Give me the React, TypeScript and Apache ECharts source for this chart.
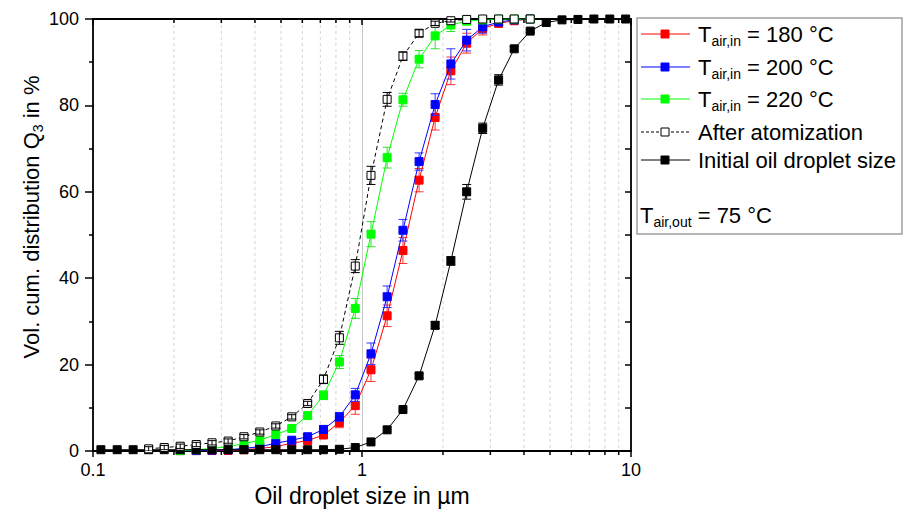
import React, { useEffect, useRef } from "react";
import * as echarts from "echarts";

// Particle size classes (µm)
const sizes = [0.107, 0.123, 0.141, 0.161, 0.184, 0.211, 0.242, 0.277, 0.318, 0.364, 0.417, 0.478, 0.548, 0.628, 0.719, 0.824, 0.944, 1.08, 1.24, 1.42, 1.63, 1.87, 2.14, 2.45, 2.81, 3.22, 3.68, 4.22, 4.84, 5.54, 6.35, 7.28, 8.34, 9.55];

// Q3 (%) per class, null where not drawn
const q180 = [null, null, null, null, null, 0.1, 0.1, 0.1, 0.15, 0.3, 0.6, 1.0, 1.8, 2.4, 3.7, 6.6, 10.5, 18.8, 31.3, 46.4, 62.7, 77.2, 88.0, 94.4, 97.8, 99.0, 99.6, 100, null, null, null, null, null, null];
const q200 = [null, null, null, null, null, 0.1, 0.1, 0.2, 0.3, 0.6, 1.0, 1.8, 2.5, 3.3, 5.0, 7.9, 13.0, 22.5, 35.7, 51.1, 67.0, 80.2, 89.6, 95.1, 98.2, 99.3, 99.8, 100, null, null, null, null, null, null];
const q220 = [null, null, null, null, null, 0.1, 0.3, 0.6, 1.0, 1.7, 2.5, 3.8, 5.2, 8.2, 12.9, 20.6, 33.0, 50.2, 67.9, 81.3, 90.7, 96.1, 98.6, 99.5, 99.8, 100, 100, 100, null, null, null, null, null, null];
const qAfter = [null, null, null, 0.5, 0.8, 1.1, 1.5, 1.9, 2.3, 3.3, 4.4, 5.8, 7.9, 11.0, 16.6, 26.2, 42.8, 63.8, 81.4, 91.4, 96.7, 99.0, 99.6, 99.9, 100, 100, 100, 100, null, null, null, null, null, null];
const qInitial = [0.3, 0.3, 0.3, 0.3, 0.3, 0.3, 0.3, 0.3, 0.3, 0.3, 0.3, 0.3, 0.3, 0.3, 0.3, 0.4, 0.8, 2.1, 4.9, 9.6, 17.4, 29.1, 44.0, 60.0, 74.7, 85.9, 93.1, 97.2, 99.2, 99.8, 99.9, 100, 100, 100];

// Error (± %) per class
const e180 = [0, 0, 0, 0, 0, 0, 0, 0, 0, 0, 0, 0.3, 0.4, 0.6, 0.8, 1.2, 2.0, 2.7, 2.5, 3.0, 2.7, 2.9, 3.2, 2.3, 1.5, 0.8, 0.4, 0, 0, 0, 0, 0, 0, 0];
const e200 = [0, 0, 0, 0, 0, 0, 0, 0, 0, 0, 0, 0, 0, 0.5, 0.8, 1.0, 1.5, 2.5, 2.5, 2.5, 2.0, 2.5, 3.5, 2.5, 1.5, 0.8, 0.3, 0, 0, 0, 0, 0, 0, 0];
const e220 = [0, 0, 0, 0, 0, 0, 0, 0, 0, 0, 0, 0, 0.4, 0.6, 1.0, 1.5, 2.3, 2.9, 2.4, 1.5, 2.0, 3.0, 1.5, 0.8, 0.3, 0, 0, 0, 0, 0, 0, 0, 0, 0];
const eAfter = [0, 0, 0, 0.5, 0.5, 0.5, 0.5, 0.5, 0.5, 0.5, 0.5, 0.5, 0.5, 0.5, 1.0, 1.5, 1.5, 2.1, 1.6, 1.0, 0.8, 0.5, 0.3, 0, 0, 0, 0, 0, 0, 0, 0, 0, 0, 0];
const eInitial = [0, 0, 0, 0, 0, 0, 0, 0, 0, 0, 0, 0, 0, 0, 0, 0, 0, 0, 0, 0, 0.5, 0.8, 1.0, 1.7, 1.2, 1.2, 0.5, 0.3, 0, 0, 0, 0, 0, 0];

// Minor log grid positions
const minorTicks = [0.2, 0.3, 0.4, 0.5, 0.6, 0.7, 0.8, 0.9, 2, 3, 4, 5, 6, 7, 8, 9];

const legendLabels = ["180 °C", "200 °C", "220 °C", "After atomization", "Initial oil droplet size"];
const outletLabel = "75 °C";

const FONT = "'Liberation Sans', Arial, sans-serif";

function pts(vals: (number | null)[]) {
  const out: number[][] = [];
  vals.forEach((v, i) => {
    if (v !== null) out.push([sizes[i], v]);
  });
  return out;
}

function errPts(vals: (number | null)[], errs: number[]) {
  const out: number[][] = [];
  vals.forEach((v, i) => {
    if (v !== null && errs[i] > 0) out.push([sizes[i], v, errs[i]]);
  });
  return out;
}

function errorSeries(data: number[][], color: string, z: number) {
  return {
    type: "custom",
    data,
    clip: true,
    silent: true,
    z,
    encode: { x: 0, y: 1 },
    renderItem: (_p: any, api: any) => {
      const x = api.value(0);
      const y = api.value(1);
      const e = api.value(2);
      const c = api.coord([x, y]);
      const hi = api.coord([x, y + e]);
      const lo = api.coord([x, y - e]);
      const w = 4.5;
      const st = { stroke: color, lineWidth: 1 };
      return {
        type: "group",
        children: [
          { type: "line", shape: { x1: c[0], y1: hi[1], x2: c[0], y2: lo[1] }, style: st },
          { type: "line", shape: { x1: c[0] - w, y1: hi[1], x2: c[0] + w, y2: hi[1] }, style: st },
          { type: "line", shape: { x1: c[0] - w, y1: lo[1], x2: c[0] + w, y2: lo[1] }, style: st },
        ],
      };
    },
  };
}

function lineSeries(name: string, data: number[][], color: string, fill: string, dashed: boolean, z: number) {
  return {
    name,
    type: "line",
    data,
    z,
    symbol: "rect",
    symbolSize: 8,
    showSymbol: true,
    lineStyle: { color, width: 1, type: dashed ? [4, 3] : "solid" },
    itemStyle: { color: fill, borderColor: color, borderWidth: 1 },
    emphasis: { disabled: true },
  };
}

export default function App() {
  const ref = useRef<HTMLDivElement>(null);
  useEffect(() => {
    if (!ref.current) return;
    const chart = echarts.init(ref.current, undefined, { renderer: "svg" });

    const legendRows = [
      { y: 34, color: "#ff0000", fill: "#ff0000", dashed: false, sub: true, label: legendLabels[0] },
      { y: 67, color: "#0000ff", fill: "#0000ff", dashed: false, sub: true, label: legendLabels[1] },
      { y: 99, color: "#00ff00", fill: "#00ff00", dashed: false, sub: true, label: legendLabels[2] },
      { y: 132, color: "#000000", fill: "#ffffff", dashed: true, sub: false, label: legendLabels[3] },
      { y: 160, color: "#000000", fill: "#000000", dashed: false, sub: false, label: legendLabels[4] },
    ];
    const rich = {
      m: { fontSize: 22, fontFamily: FONT, color: "#000", lineHeight: 28 },
      s: { fontSize: 14, fontFamily: FONT, color: "#000", lineHeight: 14, verticalAlign: "bottom" },
    };
    const graphic: any[] = [
      {
        type: "rect",
        shape: { x: 637, y: 18, width: 265, height: 216 },
        style: { fill: "none", stroke: "#a0a0a0", lineWidth: 1.5 },
        silent: true,
      },
    ];
    legendRows.forEach((r) => {
      graphic.push({
        type: "line",
        shape: { x1: 641, y1: r.y, x2: 690, y2: r.y },
        style: { stroke: r.color, lineWidth: 1, lineDash: r.dashed ? [3, 2] : null },
        silent: true,
      });
      graphic.push({
        type: "rect",
        shape: { x: 661, y: r.y - 4, width: 8, height: 8 },
        style: { fill: r.fill, stroke: r.color, lineWidth: 1 },
        silent: true,
      });
      graphic.push({
        type: "text",
        x: 698,
        y: r.y,
        style: {
          text: r.sub ? `{m|T}{s|air,in}{m| = ${r.label}}` : `{m|${r.label}}`,
          rich,
          verticalAlign: "middle",
          align: "left",
        },
        silent: true,
      });
    });
    graphic.push({
      type: "text",
      x: 640,
      y: 215,
      style: { text: `{m|T}{s|air,out}{m| = ${outletLabel}}`, rich, verticalAlign: "middle", align: "left" },
      silent: true,
    });
    graphic.push({
      type: "text",
      x: 31,
      y: 217,
      rotation: Math.PI / 2,
      style: {
        text: "{m|Vol. cum. distribution Q}{s|3}{m| in %}",
        rich,
        verticalAlign: "middle",
        align: "center",
      },
      silent: true,
    });

    chart.setOption({
      animation: false,
      backgroundColor: "#ffffff",
      textStyle: { fontFamily: FONT },
      grid: { left: 93, right: 273, top: 19, bottom: 65, containLabel: false },
      xAxis: [
        {
          type: "log",
          logBase: 10,
          min: 0.1,
          max: 10,
          position: "bottom",
          name: "Oil droplet size in µm",
          nameLocation: "middle",
          nameGap: 33,
          nameTextStyle: { fontSize: 23, color: "#000", fontFamily: FONT },
          axisLine: { show: true, onZero: false, lineStyle: { color: "#000", width: 1.8 } },
          axisTick: { show: true, inside: false, length: 6, lineStyle: { color: "#000", width: 1.5 } },
          axisLabel: { fontSize: 18, color: "#000", margin: 10, fontFamily: FONT },
          splitLine: { show: true, lineStyle: { color: "#c8c8c8", width: 1 } },
        },
        {
          type: "log",
          logBase: 10,
          min: 0.1,
          max: 10,
          position: "top",
          axisLine: { show: true, onZero: false, lineStyle: { color: "#000", width: 1.8 } },
          axisTick: { show: true, inside: true, length: 6, lineStyle: { color: "#000", width: 1.5 } },
          axisLabel: { show: false },
          splitLine: { show: false },
        },
      ],
      yAxis: [
        {
          type: "value",
          min: 0,
          max: 100,
          interval: 20,
          position: "left",
          axisLine: { show: true, onZero: false, lineStyle: { color: "#000", width: 1.8 } },
          axisTick: { show: true, inside: false, length: 8, lineStyle: { color: "#000", width: 1.5 } },
          minorTick: { show: true, splitNumber: 2, length: 4, lineStyle: { color: "#000", width: 1.5 } },
          axisLabel: { fontSize: 18, color: "#000", margin: 14, fontFamily: FONT },
          splitLine: { show: false },
        },
        {
          type: "value",
          min: 0,
          max: 100,
          interval: 10,
          position: "right",
          axisLine: { show: true, onZero: false, lineStyle: { color: "#000", width: 1.8 } },
          axisTick: { show: true, inside: true, length: 6, lineStyle: { color: "#000", width: 1.5 } },
          axisLabel: { show: false },
          splitLine: { show: false },
        },
      ],
      graphic,
      series: [
        {
          type: "custom",
          silent: true,
          clip: false,
          z: 1,
          data: minorTicks.map((v) => [v, 0]),
          encode: { x: 0, y: 1 },
          renderItem: (_p: any, api: any) => {
            const v = api.value(0);
            const top = api.coord([v, 100]);
            const bot = api.coord([v, 0]);
            return {
              type: "group",
              children: [
                {
                  type: "line",
                  shape: { x1: top[0], y1: top[1], x2: bot[0], y2: bot[1] },
                  style: { stroke: "#d4d4d4", lineWidth: 1, lineDash: [3, 3] },
                },
                {
                  type: "line",
                  shape: { x1: bot[0], y1: bot[1], x2: bot[0], y2: bot[1] + 4 },
                  style: { stroke: "#000", lineWidth: 1.5 },
                },
                {
                  type: "line",
                  shape: { x1: top[0], y1: top[1], x2: top[0], y2: top[1] + 4 },
                  style: { stroke: "#000", lineWidth: 1.5 },
                },
              ],
            };
          },
        },
        errorSeries(errPts(q180, e180), "#ff3333", 2),
        lineSeries("T_air,in = 180 °C", pts(q180), "#ff0000", "#ff0000", false, 3),
        errorSeries(errPts(q200, e200), "#3333ff", 4),
        lineSeries("T_air,in = 200 °C", pts(q200), "#0000ff", "#0000ff", false, 5),
        errorSeries(errPts(q220, e220), "#33dd33", 6),
        lineSeries("T_air,in = 220 °C", pts(q220), "#00ff00", "#00ff00", false, 7),
        lineSeries("Initial oil droplet size", pts(qInitial), "#000000", "#000000", false, 8),
        errorSeries(errPts(qInitial, eInitial), "#000000", 9),
        lineSeries("After atomization", pts(qAfter), "#000000", "#ffffff", true, 10),
        errorSeries(errPts(qAfter, eAfter), "#000000", 11),
      ],
    });
    return () => chart.dispose();
  }, []);
  return (
    <div
      ref={ref}
      style={{ position: "absolute", left: 0, top: 0, width: 904, height: 516, background: "#fff" }}
    />
  );
}
